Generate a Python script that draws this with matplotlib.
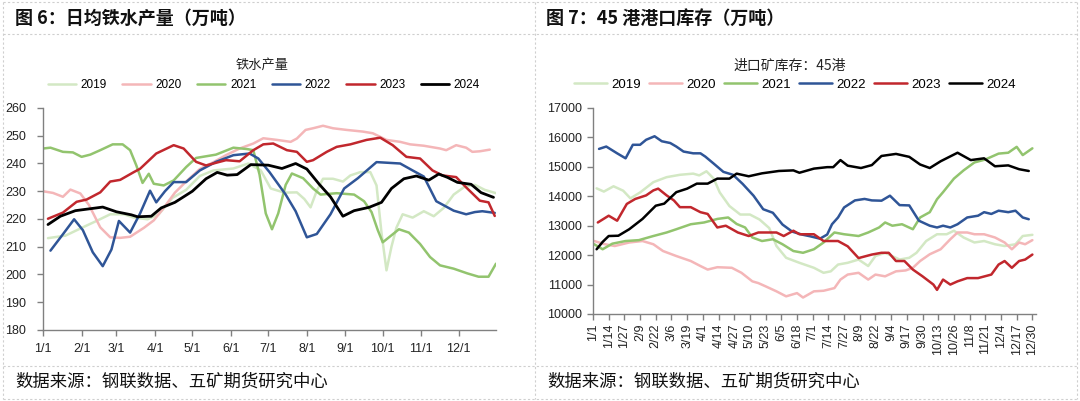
import matplotlib
matplotlib.use("Agg")
import matplotlib.pyplot as plt
from matplotlib.lines import Line2D

plt.rcParams['font.family'] = ['Noto Sans CJK SC', 'DejaVu Sans']

# ---- left chart: daily hot metal output (10k t), x = day of year ----
years = ['2019', '2020', '2021', '2022', '2023', '2024']
colors = ['#d3e8c4', '#f4b6b8', '#92c46e', '#2f5597', '#c1272d', '#000000']

iron_d_2019 = [4, 18, 32, 43, 54, 65, 73, 84, 93, 104, 115, 126, 137, 153, 165, 175, 183, 194, 204, 210, 215,
               220, 225, 233, 241, 247, 255, 263, 268, 272, 276, 280, 284, 289, 297, 306, 314, 322, 330, 339,
               347, 355, 364]
iron_2019 = [213.1, 214, 217, 219.3, 221.7, 221.7, 220.5, 219.9, 221.7, 227.6, 230.5, 235.5, 237.5, 238.2, 240,
             237.5, 231, 229.5, 229.6, 227.2, 224.2, 230.2, 234.5, 234.5, 233.5, 235.7, 236.9, 236.9, 232.1,
             215, 201.5, 210, 216.9, 221.7, 220.5, 222.8, 221, 224, 228.8, 231.7, 232.3, 230.5, 229.3]

iron_d_2020 = [0, 8, 16, 22, 30, 37, 46, 54, 62, 70, 81, 89, 97, 106, 115, 126, 137, 147, 158, 169, 177, 188,
               199, 204, 211, 217, 225, 233, 244, 257, 265, 276, 287, 295, 306, 319, 324, 332, 340, 345, 351, 359]
iron_2020 = [230, 229.4, 228, 230.6, 229.2, 225, 217, 213.4, 213.2, 213.6, 216.8, 219.5, 224, 229.5, 233.5, 238,
             240.5, 243, 245.4, 247.2, 249.1, 248.5, 247.8, 249, 252.1, 252.7, 253.6, 252.7, 252.1, 251.5, 250.9,
             248.5, 247.8, 246.9, 246.4, 245.4, 244.8, 246.6, 245.7, 244.2, 244.4, 245]

iron_d_2021 = [0, 6, 16, 24, 31, 38, 46, 56, 64, 70, 75, 80, 85, 89, 97, 105, 115, 123, 139, 153, 164, 169, 174,
               179, 184, 189, 195, 200, 209, 217, 223, 236, 250, 258, 264, 269, 273, 278, 286, 294, 303, 311, 319,
               330, 341, 350, 358, 364]
iron_2021 = [245.4, 245.7, 244.2, 244, 242.4, 243.2, 244.8, 246.9, 246.9, 244.8, 239.3, 233, 236.3, 232.7, 232.1,
             233.9, 238.7, 242, 243.2, 245.7, 245.2, 244.8, 236, 222, 216.3, 222, 232.3, 236.4, 234.7, 231, 228.8,
             229.3, 228.8, 226.4, 222.5, 216, 211.6, 213.4, 216.3, 215.1, 211, 206.3, 203.3, 202.1, 200.4, 199.2,
             199.2, 203.9]

iron_d_2022 = [6, 16, 25, 32, 40, 48, 55, 61, 70, 78, 86, 91, 98, 105, 115, 126, 139, 153, 166, 173, 182, 195,
               203, 212, 220, 231, 242, 253, 268, 287, 297, 306, 316, 330, 340, 347, 353, 363]
iron_2022 = [208.6, 214.5, 219.9, 216, 208, 203, 209, 219.3, 215.1, 222, 230.2, 226, 230, 233.3, 233.3, 237.5,
             240.6, 243, 243.6, 241.8, 236.9, 228.8, 222.8, 213.4, 214.6, 221.7, 231, 234.7, 240.5, 240, 237.5,
             235.3, 226.4, 223, 221.7, 222.5, 222.8, 222.2]

iron_d_2023 = [4, 16, 27, 35, 46, 54, 62, 73, 78, 91, 105, 113, 123, 131, 147, 158, 169, 177, 185, 196, 204, 212,
               217, 228, 236, 247, 260, 271, 281, 292, 303, 313, 321, 332, 340, 351, 358, 363]
iron_2023 = [220.1, 222.3, 226.2, 227, 229.6, 233.5, 234.1, 236.9, 238.1, 243.6, 246.6, 245.4, 240.6, 239.3,
             241.2, 240.8, 244.8, 246.9, 247.2, 244.8, 244.2, 240.6, 241.2, 244.2, 246, 246.9, 248.5, 249.3,
             246.6, 242.4, 241.8, 237.5, 235.7, 235.1, 231.4, 226.6, 226, 221.1]

iron_d_2024 = [4, 14, 26, 43, 48, 59, 71, 76, 87, 95, 106, 120, 131, 140, 148, 156, 167, 181, 192, 203, 212, 222,
               231, 241, 250, 262, 272, 280, 290, 300, 310, 318, 325, 333, 344, 352, 362]
iron_2024 = [218, 221, 223, 224, 224.3, 222.6, 221.5, 220.8, 221, 224, 226, 230, 234.5, 236.8, 235.8, 236,
             239.6, 239.4, 238.2, 240, 238, 232.5, 228, 221, 223, 224.2, 226, 231, 234.5, 235.5, 234, 236.2,
             235, 233.2, 232.5, 229.5, 227.8]

month_days = [0, 31, 59, 90, 120, 151, 181, 212, 243, 273, 304, 334]
month_labels = ['1/1', '2/1', '3/1', '4/1', '5/1', '6/1', '7/1', '8/1', '9/1', '10/1', '11/1', '12/1']

# ---- right chart: 45-port imported ore stocks (10k t) ----
ore_d_2019 = [3, 9, 17, 25, 31, 39, 50, 61, 72, 83, 88, 94, 100, 105, 113, 122, 130, 138, 146, 152, 160, 171,
              183, 191, 197, 203, 211, 220, 228, 234, 242, 254, 262, 268, 276, 285, 293, 299, 307, 316, 324, 333,
              341, 350, 356, 364]
ore_2019 = [14270, 14160, 14340, 14190, 13930, 14130, 14480, 14650, 14730, 14770, 14710, 14850, 14600, 14130,
            13670, 13380, 13380, 13210, 12920, 12310, 11910, 11740, 11570, 11400, 11450, 11680, 11740, 11850,
            11630, 11970, 12080, 11850, 11910, 12080, 12480, 12710, 12710, 12830, 12600, 12430, 12480, 12370,
            12310, 12370, 12650, 12690]

ore_d_2020 = [1, 10, 18, 30, 41, 50, 58, 69, 81, 89, 95, 103, 115, 123, 132, 137, 143, 152, 160, 169, 174, 183,
              191, 200, 205, 211, 220, 228, 234, 242, 251, 259, 265, 271, 279, 288, 296, 302, 310, 316, 324, 333,
              341, 347, 353, 358, 364]
ore_2020 = [12480, 12370, 12310, 12430, 12480, 12370, 12140, 11970, 11800, 11630, 11510, 11590, 11570, 11400,
            11110, 11050, 10940, 10770, 10600, 10710, 10560, 10770, 10790, 10880, 11170, 11340, 11400, 11170,
            11340, 11280, 11450, 11480, 11570, 11800, 12030, 12200, 12540, 12770, 12770, 12710, 12710, 12600,
            12430, 12200, 12430, 12370, 12510]

ore_d_2021 = [1, 8, 16, 27, 38, 50, 61, 69, 81, 92, 103, 112, 119, 126, 132, 140, 149, 157, 166, 174, 183, 191,
              200, 208, 220, 228, 237, 242, 248, 256, 265, 271, 279, 285, 290, 299, 307, 316, 325, 336, 344, 351,
              356, 364]
ore_2021 = [12370, 12200, 12390, 12480, 12510, 12650, 12770, 12880, 13050, 13110, 13230, 13280, 13060, 12940,
            12600, 12480, 12540, 12370, 12140, 12080, 12200, 12430, 12770, 12710, 12650, 12770, 12940, 13110,
            13000, 13050, 12880, 13280, 13460, 13900, 14140, 14600, 14880, 15150, 15250, 15450, 15480, 15680,
            15400, 15630]

ore_d_2022 = [5, 11, 20, 27, 33, 39, 44, 51, 57, 64, 69, 75, 83, 89, 93, 100, 108, 116, 124, 133, 141, 149, 157,
              165, 173, 180, 188, 194, 198, 203, 208, 217, 225, 231, 239, 246, 254, 262, 270, 279, 285, 290, 296,
              302, 310, 319, 324, 330, 336, 344, 350, 356, 361]
ore_2022 = [15610, 15690, 15460, 15290, 15750, 15750, 15920, 16040, 15870, 15810, 15690, 15520, 15460, 15460,
            15350, 15110, 14830, 14730, 14420, 14020, 13560, 13440, 13040, 12800, 12700, 12640, 12560, 12700,
            13050, 13280, 13620, 13860, 13910, 13860, 13850, 14020, 13700, 13690, 13170, 13000, 12940, 13000,
            12940, 13050, 13280, 13340, 13460, 13400, 13510, 13460, 13510, 13280, 13220]

ore_d_2023 = [4, 13, 20, 28, 35, 44, 50, 54, 61, 67, 72, 81, 89, 95, 103, 110, 120, 129, 137, 152, 158, 166, 171,
              183, 191, 203, 211, 220, 231, 239, 245, 251, 258, 265, 273, 282, 285, 290, 296, 302, 310, 319, 330,
              336, 341, 347, 353, 358, 364]
ore_2023 = [13110, 13340, 13170, 13740, 13910, 14030, 14200, 14260, 14030, 13860, 13630, 13630, 13460, 13400,
            12940, 13000, 12770, 12650, 12770, 12770, 12650, 12830, 12710, 12710, 12480, 12480, 12300, 11900,
            12020, 12080, 12080, 11800, 11800, 11510, 11280, 11000, 10820, 11170, 11000, 11110, 11220, 11220,
            11340, 11680, 11800, 11570, 11800, 11850, 12020]

ore_d_2024 = [3, 8, 13, 21, 30, 41, 52, 59, 69, 78, 86, 95, 103, 113, 119, 129, 140, 154, 166, 171, 183, 194,
              199, 205, 211, 222, 231, 239, 251, 262, 271, 279, 288, 302, 313, 324, 333, 344, 353, 361]
ore_2024 = [12200, 12450, 12650, 12660, 12880, 13230, 13680, 13750, 14140, 14260, 14430, 14430, 14600, 14600,
            14770, 14680, 14780, 14860, 14880, 14800, 14940, 14990, 14990, 15230, 15040, 14960, 15060, 15370,
            15440, 15340, 15080, 14960, 15190, 15480, 15230, 15290, 15020, 15050, 14920, 14860]

ore_tick_labels = ['1/1', '1/14', '1/27', '2/9', '2/22', '3/6', '3/19', '4/1', '4/14', '4/27', '5/10', '5/23',
                   '6/5', '6/18', '7/1', '7/14', '7/27', '8/9', '8/22', '9/4', '9/17', '9/30', '10/13', '10/26',
                   '11/8', '11/21', '12/4', '12/17', '12/30']
ore_tick_days = [13 * i for i in range(len(ore_tick_labels))]

W, H = 1080, 401
fig = plt.figure(figsize=(W / 100, H / 100), dpi=100)


def fx(px):
    return px / W


def fy(py):
    return 1 - py / H


# dashed panel frame
frame_kw = dict(color='#cfcfcf', lw=0.8, linestyle=(0, (2, 2)))
for py in [1.5, 34, 366, 399]:
    fig.add_artist(Line2D([fx(3), fx(1077)], [fy(py), fy(py)], **frame_kw))
for px in [3, 535, 1077]:
    fig.add_artist(Line2D([fx(px), fx(px)], [fy(1.5), fy(399)], **frame_kw))

narrow = ['Liberation Sans Narrow', 'Liberation Sans', 'DejaVu Sans']
arial = ['Liberation Sans', 'DejaVu Sans']


def style_axis(ax):
    for s in ['top', 'right']:
        ax.spines[s].set_visible(False)
    for s in ['left', 'bottom']:
        ax.spines[s].set_color('#808080')
        ax.spines[s].set_linewidth(1.0)
    ax.tick_params(direction='out', length=4, width=1.0, color='#808080', colors='#222222')


# ---- left chart ----
ax1 = fig.add_axes([fx(43), fy(330), fx(496 - 43), (330 - 108) / H])
iron_d = [iron_d_2019, iron_d_2020, iron_d_2021, iron_d_2022, iron_d_2023, iron_d_2024]
iron_v = [iron_2019, iron_2020, iron_2021, iron_2022, iron_2023, iron_2024]
for i, y in enumerate(years):
    ax1.plot(iron_d[i], iron_v[i], color=colors[i], lw=2.0 if y == '2024' else 1.8,
             label=y, solid_capstyle='round')
ax1.set_xlim(0, 364)
ax1.set_ylim(180, 260)
ax1.set_yticks(range(180, 261, 10))
ax1.set_xticks(month_days)
ax1.set_xticklabels(month_labels)
style_axis(ax1)
ax1.tick_params(axis='y', pad=8)
ax1.tick_params(axis='x', pad=5)
for lab in ax1.get_xticklabels() + ax1.get_yticklabels():
    lab.set_family(narrow)
    lab.set_fontsize(9)

leg1 = ax1.legend(loc='center', bbox_to_anchor=(fx(264), fy(85.5)), bbox_transform=fig.transFigure,
                  ncol=6, frameon=False, handlelength=2.4, handletextpad=0.4, columnspacing=1.3,
                  prop={'family': arial, 'size': 8.5})
fig.text(fx(262), fy(65.5), '铁水产量', ha='center', va='center', fontsize=9.5, color='#222222')

# ---- right chart ----
ax2 = fig.add_axes([fx(593), fy(314), fx(1036 - 593), (314 - 108) / H])
ore_d = [ore_d_2019, ore_d_2020, ore_d_2021, ore_d_2022, ore_d_2023, ore_d_2024]
ore_v = [ore_2019, ore_2020, ore_2021, ore_2022, ore_2023, ore_2024]
for i, y in enumerate(years):
    ax2.plot(ore_d[i], ore_v[i], color=colors[i], lw=1.8, label=y, solid_capstyle='round')
ax2.set_xlim(0, 367)
ax2.set_ylim(10000, 17000)
ax2.set_yticks(range(10000, 17001, 1000))
ax2.set_xticks(ore_tick_days)
ax2.set_xticklabels(ore_tick_labels, rotation=90)
style_axis(ax2)
ax2.tick_params(axis='y', pad=4)
ax2.tick_params(axis='x', pad=3)
for lab in ax2.get_xticklabels() + ax2.get_yticklabels():
    lab.set_family(arial)
    lab.set_fontsize(9)

leg2 = ax2.legend(loc='center', bbox_to_anchor=(fx(795), fy(84.5)), bbox_transform=fig.transFigure,
                  ncol=6, frameon=False, handlelength=2.5, handletextpad=0.35, columnspacing=0.6,
                  prop={'family': arial, 'size': 9.5})
fig.text(fx(790), fy(65.5), '进口矿库存：45港', ha='center', va='center', fontsize=10, color='#222222')

# ---- titles and sources ----
fig.text(fx(15), fy(18), '图 6：日均铁水产量（万吨）', ha='left', va='center', fontsize=13,
         fontweight='bold', color='#111111')
fig.text(fx(546), fy(18), '图 7：45 港港口库存（万吨）', ha='left', va='center', fontsize=13,
         fontweight='bold', color='#111111')
fig.text(fx(15), fy(382), '数据来源：钢联数据、五矿期货研究中心', ha='left', va='center', fontsize=12.5,
         color='#111111')
fig.text(fx(547), fy(382), '数据来源：钢联数据、五矿期货研究中心', ha='left', va='center', fontsize=12.5,
         color='#111111')

fig.savefig('out.png', dpi=100)
